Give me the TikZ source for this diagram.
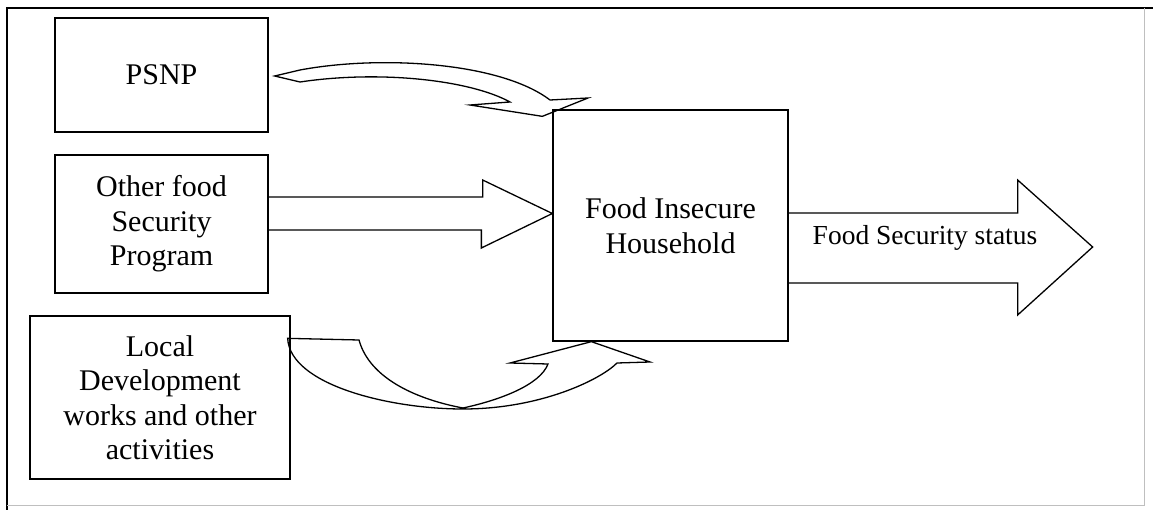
\documentclass[tikz,border=0pt]{standalone}
\usepackage{fontspec}
\setmainfont{Liberation Serif}
\usetikzlibrary{calc}
\begin{document}
\begin{tikzpicture}[x=1pt,y=-1pt,
  box/.style={draw, line width=1.3pt, rectangle, align=center, inner sep=0pt,
    font=\fontsize{30}{34.5}\selectfont},
  ribbon/.style={draw, line width=1.3pt, line join=miter},
  lbl/.style={font=\fontsize{27.5}{32}\selectfont, inner sep=0pt}
]
\useasboundingbox (0,0) rectangle (1153,510);
% outer frame
\draw[line width=1.3pt] (1153,8) -- (7,8) -- (7,510);
\draw[line width=1pt, black!25] (1144,8) -- (1144,505) -- (7,505);

% boxes
\node[box, minimum width=213pt, minimum height=114pt] (psnp) at (161.5,75) {PSNP};
\node[box, minimum width=213pt, minimum height=138pt] (other) at (161.5,224) {Other food\\Security\\Program};
\node[box, minimum width=260pt, minimum height=163pt] (local) at (160,397.5) {Local\\Development\\works and other\\activities};
\node[box, minimum width=235pt, minimum height=231pt] (hh) at (670.5,225.5) {Food Insecure\\Household};

% straight arrow from other to hh
\draw[ribbon] ($(other.east)+(0,-27)$) -- ++(214,0) -- ++(0,-17)
  -- ($(hh.west)+(0,-12)$) -- ++(-71,34.5) -- ++(0,-18) -- ($(other.east)+(0,6)$);

% output arrow
\draw[ribbon] ($(hh.east)+(0,-12.5)$) -- ++(229,0) -- ++(0,-33) -- ++(75,67)
  -- ++(-75,68) -- ++(0,-32) -- ($(hh.east)+(0,57.5)$);
\node[lbl] (status) at (925,238) {Food Security status};

% curved arrow from PSNP to hh
\coordinate (pT) at ($(psnp.east)+(6,1)$);
\coordinate (pTip) at ($(hh.north west)+(-10,7)$);
\draw[ribbon] (pT) -- (300,70) .. controls (380,55) and (500,62) .. (550,100)
  -- (588,98) -- (pTip) -- (470,105) -- (510,102)
  .. controls (470,80) and (380,70) .. (300,82) -- cycle;

% curved arrow from local to hh
\coordinate (lA) at ($(local.north east)+(-3,23)$);
\coordinate (lTip) at ($(hh.south west)+(39,0)$);
\draw[ribbon] (lA) -- (359,340) .. controls (370,380) and (420,400) .. (463,408)
  .. controls (500,400) and (540,385) .. (548,364)
  -- (510,363) -- (lTip) -- (650,362) -- (617,363)
  .. controls (600,380) and (540,409) .. (463,409)
  .. controls (390,409) and (290,385) .. (lA) -- cycle;
\end{tikzpicture}
\end{document}
